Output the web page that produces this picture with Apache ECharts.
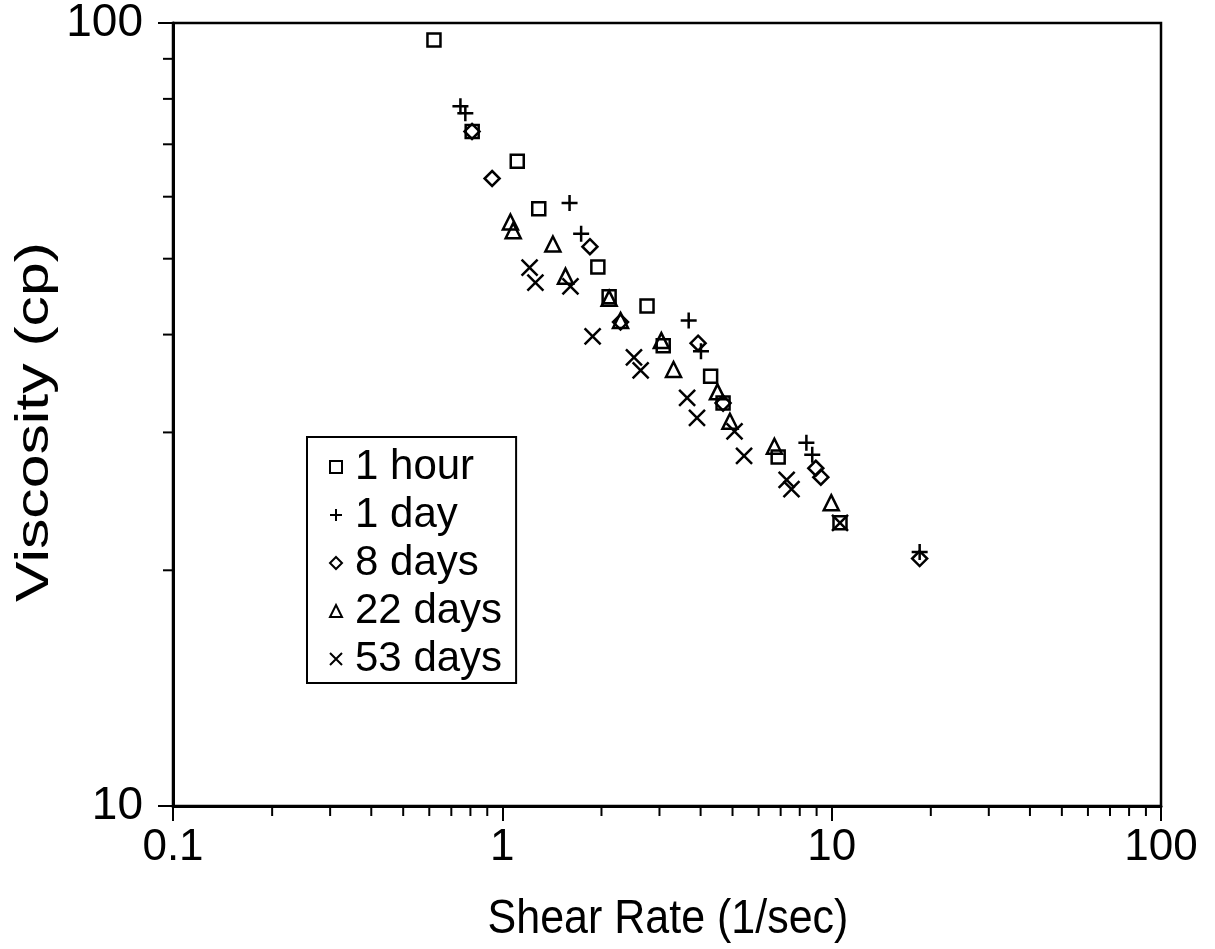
<!DOCTYPE html>
<html>
<head>
<meta charset="utf-8">
<script src="https://cdn.jsdelivr.net/npm/echarts@6/dist/echarts.min.js"></script>
<style>
  html, body { margin: 0; background: #fff; }
  #chart { width: 1215px; height: 949px; }
</style>
</head>
<body>
<div id="chart"></div>
<script>
// shear rate (1/sec) and viscosity (cp)
const oneHourX = [0.62, 0.81, 1.11, 1.29, 1.95, 2.11, 2.75, 3.08, 4.29, 4.68, 6.88, 10.6];
const oneHourY = [95.1, 72.7, 66.6, 57.9, 48.8, 44.7, 43.5, 38.7, 35.4, 32.7, 27.9, 23.0];

const oneDayX = [0.746, 0.772, 1.60, 1.735, 3.68, 4.01, 8.38, 8.73, 18.5];
const oneDayY = [78.3, 76.7, 58.9, 53.8, 41.7, 38.1, 29.1, 28.1, 21.1];

const eightDaysX = [0.809, 0.931, 1.845, 2.285, 3.93, 4.68, 8.95, 9.27, 18.5];
const eightDaysY = [72.7, 63.3, 51.8, 41.5, 39.0, 32.7, 27.0, 26.3, 20.7];

const twentyTwoDaysX = [1.058, 1.079, 1.424, 1.555, 2.11, 2.285, 3.04, 3.31, 4.50, 4.91, 6.70, 9.97];
const twentyTwoDaysY = [55.7, 54.3, 52.2, 47.5, 44.5, 41.7, 39.3, 36.1, 33.8, 31.0, 28.8, 24.4];

const fiftyThreeDaysX = [1.21, 1.26, 1.61, 1.88, 2.51, 2.63, 3.64, 3.90, 5.07, 5.42, 7.30, 7.55, 10.6];
const fiftyThreeDaysY = [48.7, 46.6, 46.1, 39.8, 37.4, 36.0, 33.2, 31.3, 30.1, 28.0, 26.1, 25.4, 23.0];

const seriesNames = ["1 hour", "1 day", "8 days", "22 days", "53 days"];

// minor log ticks
const xMinorTicks = [0.2, 0.3, 0.4, 0.5, 0.6, 0.7, 0.8, 0.9, 2, 3, 4, 5, 6, 7, 8, 9, 20, 30, 40, 50, 60, 70, 80, 90];
const yMinorTicks = [20, 30, 40, 50, 60, 70, 80, 90];

const FONT = "'Liberation Sans', Arial, sans-serif";
const PLUS = "path://M0,5L10,5M5,0L5,10";
const CROSS = "path://M0,0L10,10M0,10L10,0";

function scatter(name, xs, ys, symbol, size) {
  return {
    name: name,
    type: "scatter",
    symbol: symbol,
    symbolSize: size,
    data: xs.map((x, i) => [x, ys[i]]),
    itemStyle: {
      color: "rgba(0,0,0,0)",
      borderColor: "#000",
      borderWidth: 2.5,
      opacity: 1,
    },
    emphasis: { disabled: true },
    z: 3,
  };
}

function minorTicks(data, horizontal) {
  return {
    type: "custom",
    silent: true,
    clip: false,
    z: 5,
    data: data,
    renderItem: function (params, api) {
      const p = api.coord([api.value(0), api.value(1)]);
      const shape = horizontal
        ? { x1: p[0], y1: p[1], x2: p[0], y2: p[1] + 10 }
        : { x1: p[0] - 10, y1: p[1], x2: p[0], y2: p[1] };
      return { type: "line", shape: shape, style: { stroke: "#000", lineWidth: 2 } };
    },
  };
}

const chart = echarts.init(document.getElementById("chart"));

const option = {
  backgroundColor: "#fff",
  animation: false,
  grid: {
    left: 173,
    top: 17,
    width: 988,
    height: 789,
    show: true,
    borderColor: "#000",
    borderWidth: 2.5,
  },
  xAxis: {
    type: "log",
    logBase: 10,
    min: 0.1,
    max: 100,
    axisLine: { lineStyle: { color: "#000", width: 3 } },
    axisTick: { show: true, inside: false, length: 15, lineStyle: { color: "#000", width: 2 } },
    axisLabel: {
      color: "#000",
      fontFamily: FONT,
      fontSize: 44,
      margin: 20,
      showMinLabel: true,
      showMaxLabel: true,
    },
    splitLine: { show: false },
  },
  yAxis: {
    type: "log",
    logBase: 10,
    min: 10,
    max: 100,
    axisLine: { lineStyle: { color: "#000", width: 3 } },
    axisTick: { show: true, inside: false, length: 15, lineStyle: { color: "#000", width: 2 } },
    axisLabel: {
      color: "#000",
      fontFamily: FONT,
      fontSize: 46,
      margin: 30,
      showMinLabel: true,
      showMaxLabel: true,
    },
    splitLine: { show: false },
  },
  legend: {
    orient: "vertical",
    left: 307,
    top: 437,
    data: seriesNames,
    itemWidth: 12,
    itemHeight: 12,
    itemGap: 4,
    itemTextGap: 5,
    padding: [8, 14, 2, 22],
    borderColor: "#000",
    borderWidth: 2,
    backgroundColor: "#fff",
    selectedMode: false,
    textStyle: {
      color: "#000",
      fontFamily: FONT,
      fontSize: 42,
      lineHeight: 44,
      padding: [0, 0, 0, 8],
    },
  },
  graphic: [
    {
      type: "text",
      x: 668,
      y: 920,
      scaleY: 1.12,
      style: {
        text: "Shear Rate (1/sec)",
        font: "43px 'Liberation Sans'",
        fill: "#000",
        align: "center",
        verticalAlign: "middle",
      },
    },
    {
      type: "text",
      x: 35,
      y: 422,
      rotation: Math.PI / 2,
      scaleX: 1.32,
      style: {
        text: "Viscosity (cp)",
        font: "46px 'Liberation Sans'",
        fill: "#000",
        align: "center",
        verticalAlign: "middle",
      },
    },
  ],
  series: [
    scatter(seriesNames[0], oneHourX, oneHourY, "rect", 13),
    scatter(seriesNames[1], oneDayX, oneDayY, PLUS, 16),
    scatter(seriesNames[2], eightDaysX, eightDaysY, "diamond", 15),
    scatter(seriesNames[3], twentyTwoDaysX, twentyTwoDaysY, "triangle", 15),
    scatter(seriesNames[4], fiftyThreeDaysX, fiftyThreeDaysY, CROSS, 16),
    minorTicks(xMinorTicks.map((v) => [v, 10]), true),
    minorTicks(yMinorTicks.map((v) => [0.1, v]), false),
  ],
};

chart.setOption(option);
</script>
</body>
</html>
